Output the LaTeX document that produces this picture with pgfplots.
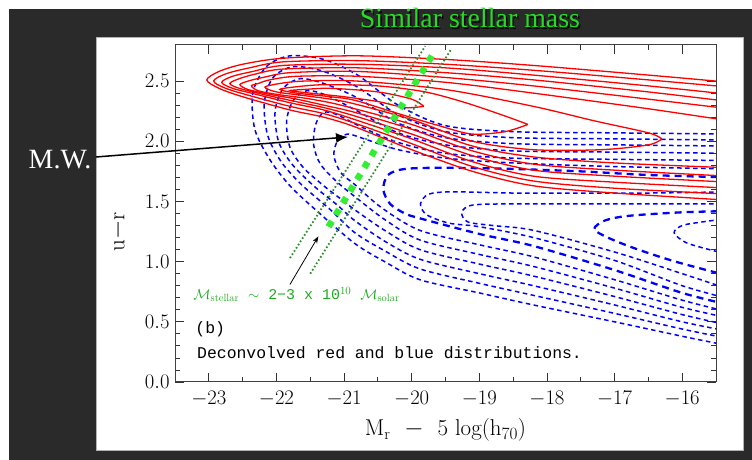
\documentclass[border=0pt]{standalone}
\usepackage{fontspec}
\newfontfamily\timesf{Liberation Serif}
\newfontfamily\monof{Liberation Mono}
\usepackage{pgfplots}
\pgfplotsset{compat=1.18}
\usetikzlibrary{arrows.meta}
\definecolor{bgdark}{HTML}{2A2A2A}
\definecolor{titlegreen}{HTML}{22DD22}
\definecolor{bandgreen}{HTML}{33EE33}
\definecolor{dotgreen}{HTML}{2E8B2E}
\definecolor{textgreen}{HTML}{22AA22}

\pgfplotsset{
  redc/.style={red, line width=1.3bp, smooth, tension=0.5},
  bluec/.style={blue, line width=1.5bp, smooth, tension=0.5, dash pattern=on 4.5bp off 3.5bp},
  bluethick/.style={blue, line width=2.3bp, smooth, tension=0.5, dash pattern=on 7bp off 5bp},
}

\begin{document}
\begin{tikzpicture}[x=1bp,y=1bp]
\useasboundingbox (0,0) rectangle (752,460);
\fill[white] (0,0) rectangle (752,460);
\fill[bgdark] (9,0) rectangle (752,451);
\fill[white, draw=gray!60, line width=1bp] (96,9) rectangle (743,422);

% title and side label
\node[text=black, font=\timesf\fontsize{28}{30}\selectfont] at (471.5,440.5) {Similar stellar mass};
\node[text=titlegreen, font=\timesf\fontsize{28}{30}\selectfont] at (470,442) {Similar stellar mass};
\node[text=white, font=\timesf\fontsize{28}{30}\selectfont] at (60,300) {M.W.};

\begin{axis}[
  at={(175bp,78bp)}, anchor=south west,
  scale only axis, width=541bp, height=337bp,
  xmin=-23.5, xmax=-15.5, ymin=0, ymax=2.8,
  xtick={-23,-22,-21,-20,-19,-18,-17,-16}, minor x tick num=1,
  ytick={0,0.5,1,1.5,2,2.5}, minor y tick num=4,
  yticklabel style={/pgf/number format/fixed, /pgf/number format/fixed zerofill,
    /pgf/number format/precision=1, xshift=-2bp},
  xticklabel style={yshift=-6bp},
  tick label style={font=\fontsize{21}{21}\selectfont},
  major tick length=9bp, minor tick length=5bp,
  tick style={line width=0.8bp, black!80},
  axis line style={line width=1bp, black!75},
  xlabel={M$_{\mathrm{r}}$\ \ $-$\ \ 5 log(h$_{70}$)},
  ylabel={u$-$r},
  label style={font=\fontsize{23}{23}\selectfont},
  xlabel style={at={(rel axis cs:0.5,-0.1424)}, anchor=center},
  ylabel style={at={(rel axis cs:-0.105,0.445)}, anchor=center},
]
% ---- blue (deconvolved blue distribution) dashed contours ----
\addplot[bluec] coordinates {(-15.3,2.06) (-17,2.07) (-18.5,2.08) (-19.5,2.13) (-20.2,2.3) (-20.8,2.55) (-21.3,2.68) (-21.8,2.71) (-22.15,2.62) (-22.35,2.4) (-22.32,2.1) (-22.1,1.85) (-21.8,1.63) (-21.4,1.42) (-20.84,1.15) (-20.4,1.0) (-19.88,0.85) (-19.0,0.74) (-18.2,0.64) (-17,0.50) (-16,0.38) (-15.3,0.30)};
\addplot[bluec] coordinates {(-15.3,2.01) (-17,2.02) (-18.5,2.03) (-19.5,2.08) (-20.2,2.22) (-20.8,2.45) (-21.3,2.58) (-21.75,2.62) (-22.05,2.53) (-22.18,2.32) (-22.13,2.05) (-21.93,1.83) (-21.63,1.64) (-21.2,1.43) (-20.84,1.24) (-20.4,1.09) (-19.88,0.94) (-19.0,0.82) (-18.2,0.72) (-17,0.57) (-16,0.44) (-15.3,0.36)};
\addplot[bluec] coordinates {(-15.3,1.96) (-17,1.97) (-18.5,1.98) (-19.5,2.03) (-20.2,2.15) (-20.8,2.36) (-21.3,2.48) (-21.65,2.52) (-21.9,2.44) (-22.02,2.25) (-21.97,2.0) (-21.77,1.81) (-21.45,1.63) (-21.1,1.47) (-20.84,1.34) (-20.4,1.17) (-19.88,1.02) (-19.0,0.9) (-18.2,0.8) (-17,0.64) (-16,0.5) (-15.3,0.42)};
\addplot[bluec] coordinates {(-15.3,1.90) (-17,1.91) (-18.5,1.92) (-19.5,1.97) (-20.2,2.07) (-20.8,2.25) (-21.25,2.38) (-21.55,2.42) (-21.75,2.34) (-21.85,2.17) (-21.8,1.95) (-21.6,1.78) (-21.3,1.63) (-21.0,1.5) (-20.84,1.43) (-20.4,1.26) (-19.88,1.10) (-19.0,0.98) (-18.2,0.88) (-17,0.71) (-16,0.56) (-15.3,0.47)};
\addplot[bluec] coordinates {(-15.3,1.84) (-17,1.85) (-18.5,1.86) (-19.5,1.9) (-20.2,1.99) (-20.75,2.12) (-21.1,2.22) (-21.3,2.24) (-21.42,2.14) (-21.45,1.97) (-21.35,1.81) (-21.1,1.66) (-20.84,1.54) (-20.4,1.35) (-19.88,1.18) (-19.0,1.06) (-18.2,0.96) (-17,0.78) (-16,0.62) (-15.3,0.53)};
\addplot[bluec] coordinates {(-15.3,1.77) (-17,1.79) (-18.5,1.82) (-19.5,1.86) (-20.2,1.93) (-20.7,2.02) (-20.95,2.06) (-21.1,2.0) (-21.15,1.88) (-21.05,1.74) (-20.84,1.64) (-20.45,1.45) (-19.88,1.26) (-19.0,1.14) (-18.2,1.04) (-17,0.85) (-16,0.68) (-15.3,0.58)};
\addplot[bluethick] coordinates {(-15.3,1.70) (-16.5,1.72) (-17.5,1.75) (-18.5,1.77) (-19.5,1.78) (-20.1,1.77) (-20.35,1.72) (-20.42,1.6) (-20.32,1.48) (-20.1,1.4) (-19.88,1.36) (-19.0,1.23) (-18.2,1.13) (-17,0.93) (-16,0.74) (-15.3,0.64)};
\addplot[bluec] coordinates {(-15.3,1.58) (-16.5,1.57) (-17.5,1.57) (-18.5,1.57) (-19.4,1.58) (-19.75,1.56) (-19.87,1.48) (-19.78,1.39) (-19.45,1.32) (-19.0,1.29) (-18.2,1.2) (-17,1.01) (-16,0.8) (-15.3,0.69)};
\addplot[bluec] coordinates {(-15.3,1.48) (-16.5,1.48) (-17.5,1.48) (-18.5,1.48) (-19.1,1.47) (-19.26,1.41) (-19.17,1.33) (-18.8,1.3) (-18.2,1.26) (-17,1.08) (-16,0.9) (-15.3,0.77)};
\addplot[bluethick] coordinates {(-15.3,1.42) (-16,1.41) (-16.8,1.38) (-17.15,1.34) (-17.3,1.27) (-17.1,1.2) (-16.7,1.11) (-16.1,1.0) (-15.3,0.88)};
\addplot[bluec] coordinates {(-15.3,1.36) (-15.7,1.33) (-16.0,1.3) (-16.12,1.24) (-15.95,1.16) (-15.6,1.1) (-15.3,1.06)};

% ---- red (deconvolved red distribution) solid contours ----
\addplot[redc] coordinates {(-15.3,2.49) (-16.5,2.55) (-18.2,2.63) (-19.5,2.68) (-20.8,2.71) (-21.9,2.69) (-22.5,2.64) (-22.85,2.58) (-23.03,2.51) (-22.85,2.44) (-22.5,2.37) (-21.8,2.26) (-21.3,2.2) (-20.84,2.12) (-20.0,1.93) (-19.1,1.75) (-18.2,1.63) (-17,1.57) (-15.3,1.51)};
\addplot[redc] coordinates {(-15.3,2.45) (-16.5,2.51) (-18.2,2.59) (-19.5,2.64) (-20.8,2.67) (-21.9,2.66) (-22.4,2.61) (-22.75,2.56) (-22.93,2.50) (-22.75,2.44) (-22.4,2.38) (-21.8,2.29) (-21.3,2.23) (-20.84,2.15) (-20.0,1.98) (-19.1,1.79) (-18.2,1.67) (-17,1.61) (-15.3,1.56)};
\addplot[redc] coordinates {(-15.3,2.39) (-16.5,2.46) (-18.2,2.55) (-19.5,2.61) (-20.8,2.64) (-21.9,2.63) (-22.35,2.58) (-22.65,2.54) (-22.81,2.49) (-22.65,2.44) (-22.3,2.39) (-21.8,2.32) (-21.3,2.26) (-20.84,2.18) (-20.0,2.02) (-19.1,1.83) (-18.2,1.71) (-17,1.66) (-15.3,1.61)};
\addplot[redc] coordinates {(-15.3,2.33) (-16.5,2.41) (-18.2,2.51) (-19.5,2.57) (-20.8,2.61) (-21.9,2.60) (-22.3,2.56) (-22.55,2.52) (-22.69,2.48) (-22.55,2.44) (-22.2,2.39) (-21.8,2.34) (-21.3,2.28) (-20.84,2.21) (-20.0,2.06) (-19.1,1.88) (-18.2,1.76) (-17,1.71) (-15.3,1.66)};
\addplot[redc] coordinates {(-15.3,2.27) (-16.5,2.35) (-18.2,2.46) (-19.5,2.53) (-20.8,2.58) (-21.8,2.57) (-22.2,2.53) (-22.42,2.50) (-22.54,2.47) (-22.42,2.43) (-22.1,2.39) (-21.7,2.35) (-21.3,2.3) (-20.84,2.24) (-20.0,2.10) (-19.1,1.92) (-18.2,1.81) (-17,1.76) (-15.3,1.71)};
\addplot[redc] coordinates {(-15.3,2.17) (-16.5,2.27) (-18.2,2.40) (-19.5,2.49) (-20.8,2.54) (-21.7,2.54) (-22.1,2.51) (-22.27,2.48) (-22.37,2.46) (-22.27,2.42) (-22.0,2.39) (-21.6,2.36) (-21.2,2.32) (-20.84,2.27) (-20.0,2.14) (-19.1,1.96) (-18.2,1.87) (-17,1.82) (-15.3,1.78)};
\addplot[redc] coordinates {(-16.3,2.02) (-16.5,2.07) (-17.3,2.17) (-18.2,2.29) (-19.5,2.43) (-20.8,2.50) (-21.6,2.50) (-21.95,2.48) (-22.17,2.45) (-22.0,2.41) (-21.6,2.38) (-21.2,2.35) (-20.84,2.31) (-20.0,2.18) (-19.1,2.0) (-18.2,1.93) (-17.2,1.93) (-16.5,1.97) (-16.3,2.02)};
\addplot[redc] coordinates {(-18.28,2.14) (-18.62,2.21) (-19.2,2.32) (-19.8,2.41) (-20.5,2.46) (-21.3,2.47) (-21.75,2.45) (-21.95,2.43) (-21.7,2.4) (-21.2,2.37) (-20.84,2.34) (-20.2,2.23) (-19.6,2.13) (-19.11,2.06) (-18.62,2.08) (-18.28,2.14)};
\addplot[redc] coordinates {(-19.82,2.29) (-20.0,2.35) (-20.5,2.41) (-21.2,2.44) (-21.6,2.43) (-21.8,2.42) (-21.5,2.40) (-21.0,2.37) (-20.5,2.33) (-20.1,2.28) (-19.82,2.29)};

% ---- similar stellar mass band ----
\addplot[dotgreen, line width=1.8bp, dash pattern=on 1.6bp off 2.2bp] coordinates {(-21.8,1.03) (-19.80,2.79)};
\addplot[dotgreen, line width=1.8bp, dash pattern=on 1.6bp off 2.2bp] coordinates {(-21.5,0.90) (-19.41,2.77)};
\addplot[bandgreen, line width=6.5bp, dash pattern=on 6.5bp off 7.3bp] coordinates {(-21.23,1.29) (-19.68,2.73)};

\draw[black, line width=0.8bp, -{Stealth[length=7bp,width=5bp]}] (axis cs:-21.8,0.81) -- (axis cs:-21.38,1.21);
\node[anchor=west, text=textgreen, font=\monof\fontsize{15}{15}\selectfont, inner sep=0pt]
  at (axis cs:-23.23,0.725) {$\mathcal{M}_{\mathrm{stellar}}$ $\sim$ 2−3 x 10$^{10}$ $\mathcal{M}_{\mathrm{solar}}$};
\node[anchor=west, font=\monof\fontsize{16.5}{16.5}\selectfont, inner sep=0pt] at (axis cs:-23.20,0.44) {(b)};
\node[anchor=west, font=\monof\fontsize{16.5}{16.5}\selectfont, inner sep=0pt] at (axis cs:-23.175,0.242) {Deconvolved red and blue distributions.};
\end{axis}

\draw[black, line width=1.5bp, -{Latex[length=12bp,width=10bp]}] (96,303) -- (348,323);
\end{tikzpicture}
\end{document}
